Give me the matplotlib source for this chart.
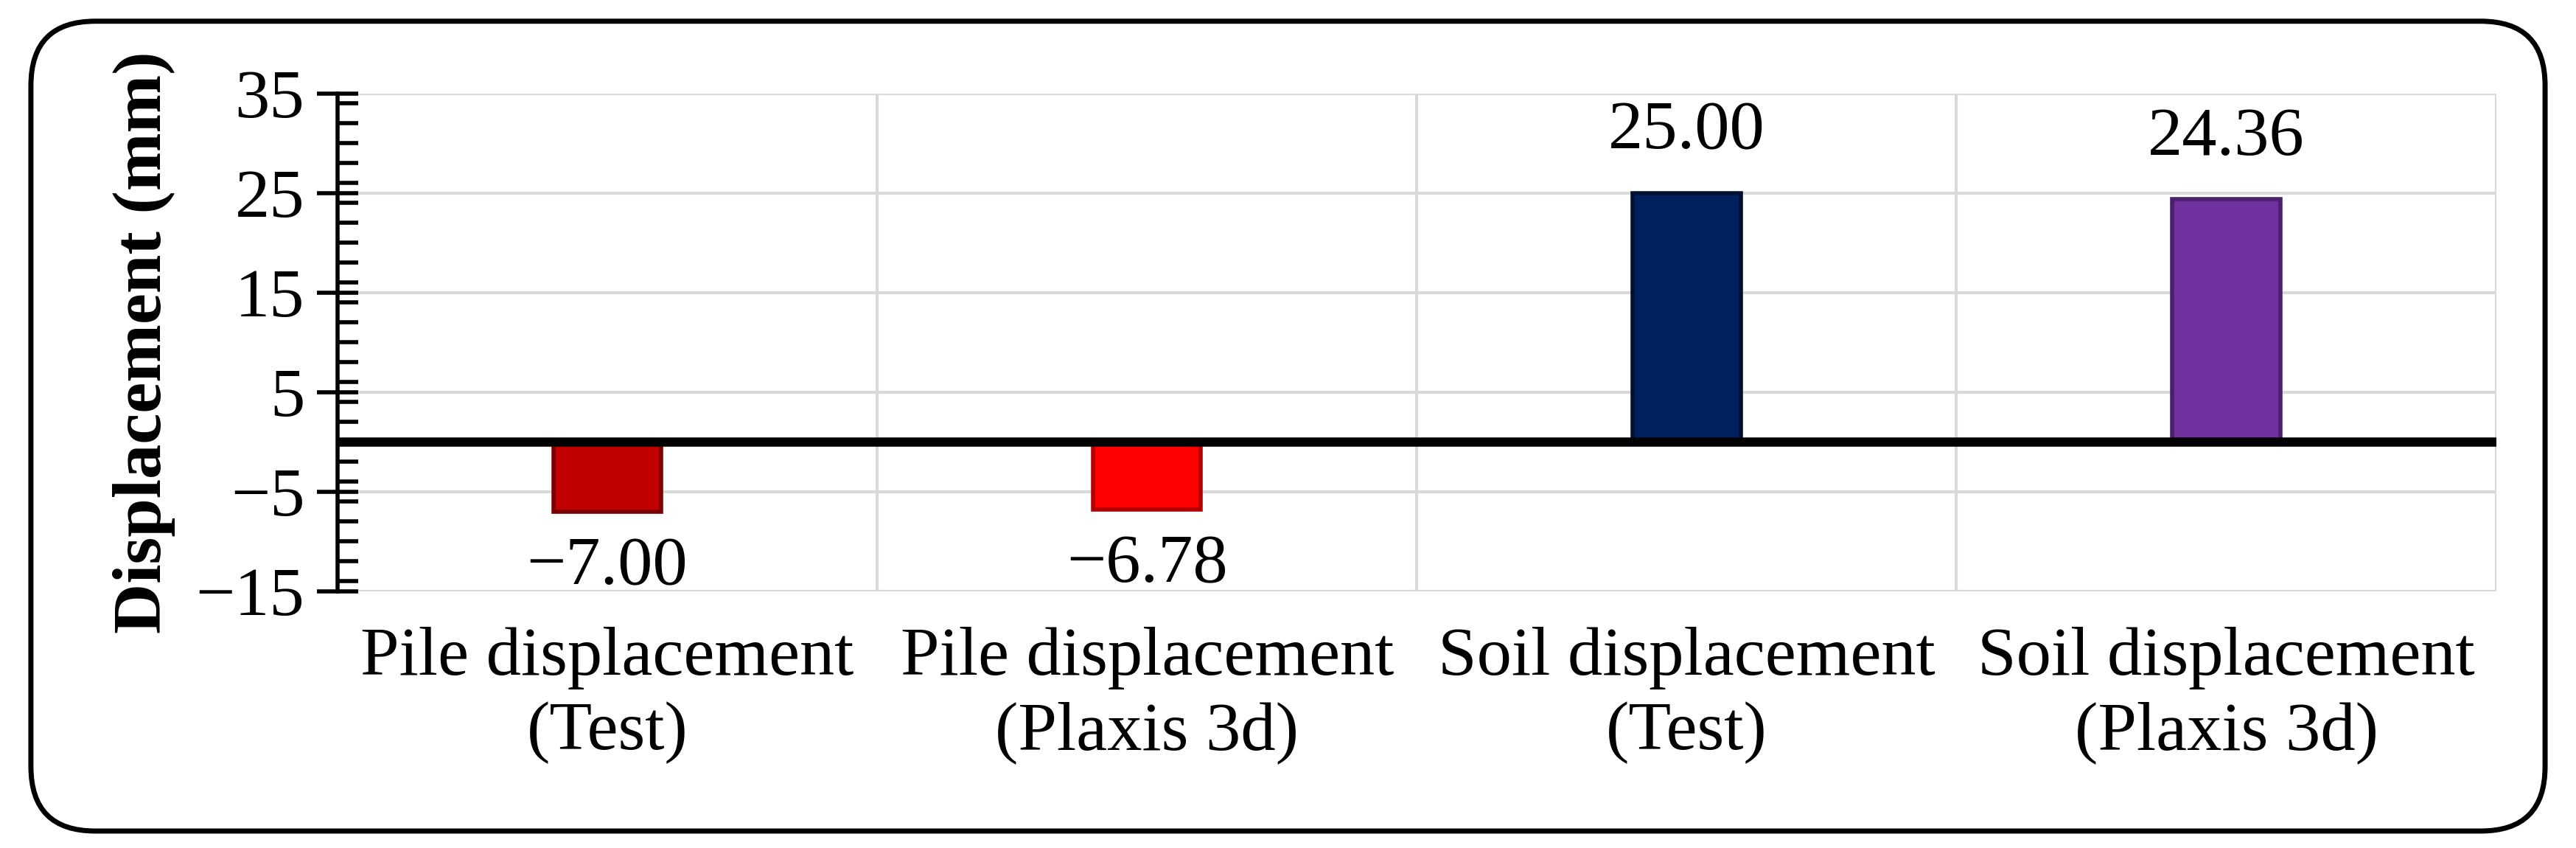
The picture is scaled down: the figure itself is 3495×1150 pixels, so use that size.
import numpy as np
import matplotlib.pyplot as plt
from matplotlib.patches import FancyBboxPatch
from matplotlib.ticker import MultipleLocator

categories = ['Pile displacement\n(Test)', 'Pile displacement\n(Plaxis 3d)',
              'Soil displacement\n(Test)', 'Soil displacement\n(Plaxis 3d)']
values = [-7.00, -6.78, 25.00, 24.36]
colors = ['#C00000', '#FF0000', '#002060', '#7030A0']
edges = ['#7A0000', '#B00000', '#001030', '#4A1F6B']

plt.rcParams['font.family'] = ['Liberation Serif', 'DejaVu Serif']
fs = 68
fig = plt.figure(figsize=(34.95, 11.5), dpi=100)
fig.patches.append(FancyBboxPatch((0.012, 0.02), 0.976, 0.955,
                                  boxstyle='round,pad=0,rounding_size=0.025',
                                  transform=fig.transFigure, fill=False,
                                  lw=5, ec='black', mutation_aspect=3.04))
ax = fig.add_axes([0.131, 0.303, 0.838, 0.587])

x = np.arange(len(values))
ax.bar(x, values, width=0.2, color=colors, edgecolor=edges, linewidth=4, zorder=3)
ax.axhline(0, color='black', lw=9, zorder=4)

for xi, v in zip(x, values):
    txt = '{:.2f}'.format(v).replace('-', '\u2212')
    if v >= 0:
        ax.text(xi, v + 3, txt, ha='center', va='bottom', fontsize=fs)
    else:
        ax.text(xi, v - 2.5, txt, ha='center', va='top', fontsize=fs)

ax.set_xlim(-0.5, 3.5)
ax.set_ylim(-15, 35)
ax.set_yticks([-15, -5, 5, 15, 25, 35])
ax.set_yticklabels(['\u221215', '\u22125', '5', '15', '25', '35'])
ax.yaxis.set_minor_locator(MultipleLocator(2))
ax.set_xticks(x)
ax.set_xticklabels(categories, fontsize=fs, linespacing=1.25)
ax.tick_params(axis='x', length=0, pad=35)
ax.tick_params(axis='y', which='major', direction='inout', length=40, width=4, labelsize=fs, pad=12)
ax.tick_params(axis='y', which='minor', direction='in', length=20, width=4)

for b in [0.5, 1.5, 2.5, 3.5]:
    ax.axvline(b, color='#D9D9D9', lw=3, zorder=1)
for t in [-15, -5, 5, 15, 25, 35]:
    ax.axhline(t, color='#D9D9D9', lw=3, zorder=1)

for s in ['top', 'right', 'bottom']:
    ax.spines[s].set_visible(False)
ax.spines['left'].set_linewidth(4)

ax.set_ylabel('Displacement (mm)', fontsize=fs, fontweight='bold', labelpad=20)

plt.savefig('out.png', dpi=100)
